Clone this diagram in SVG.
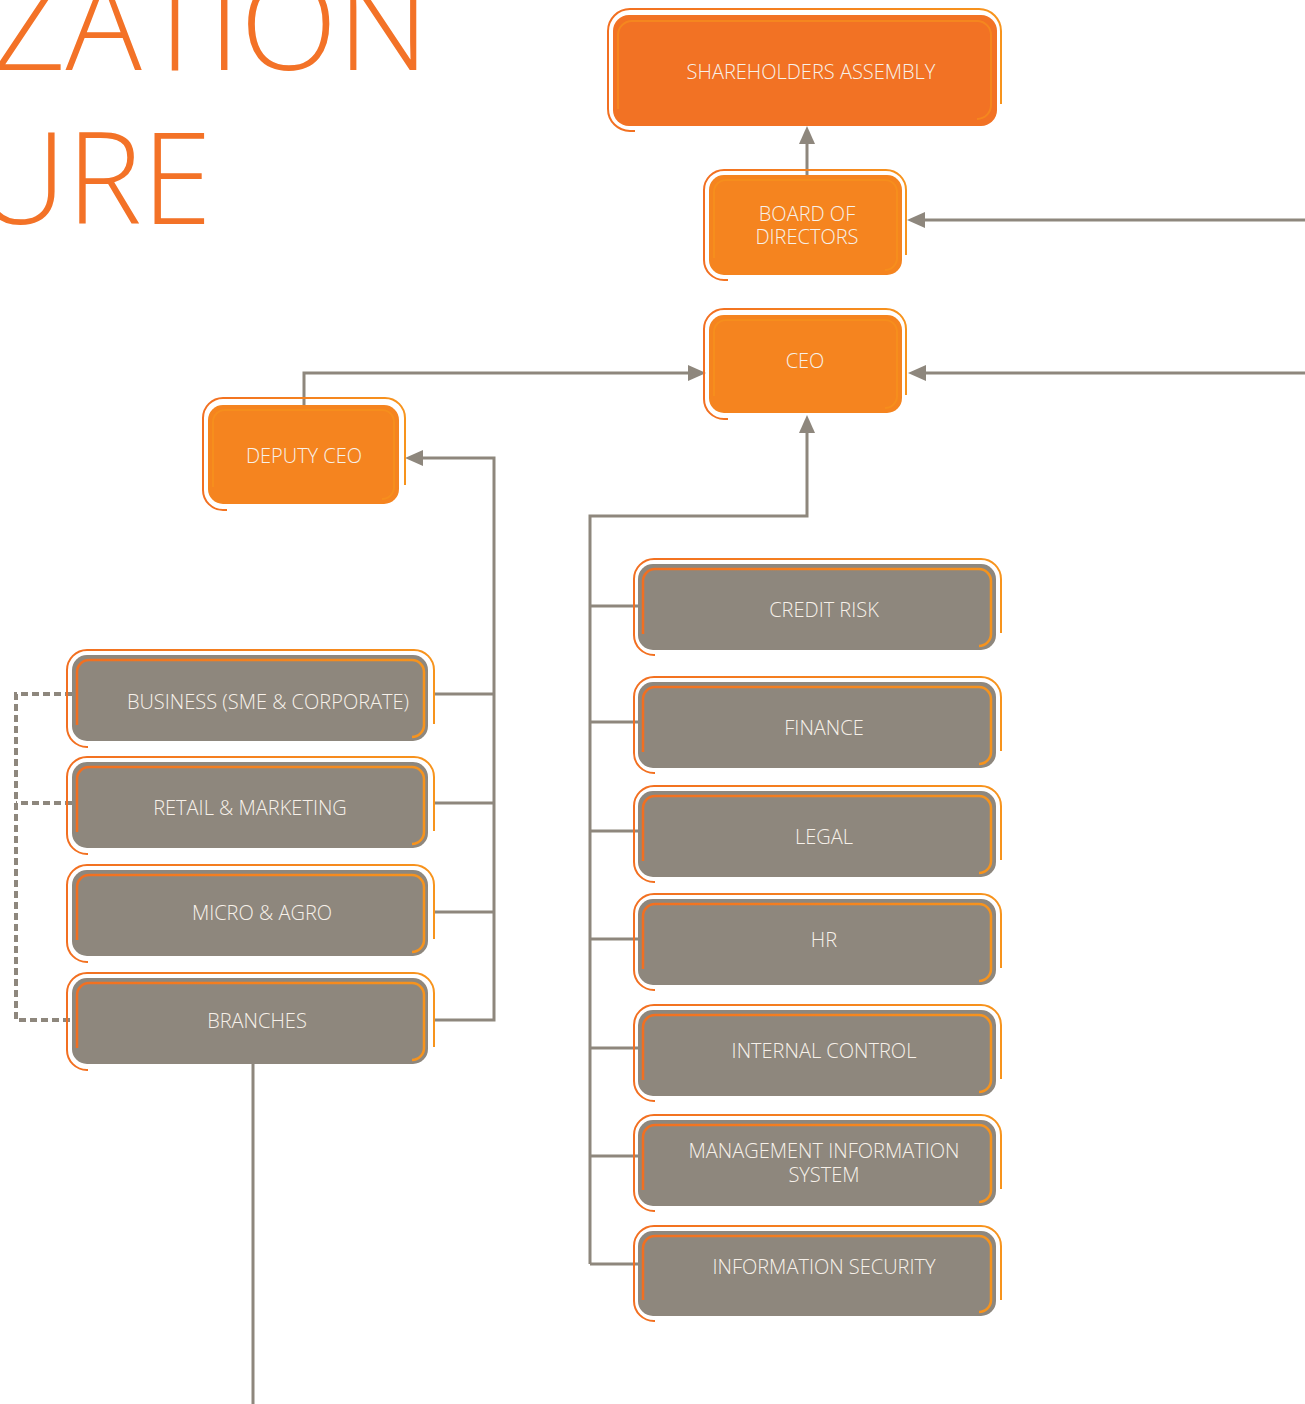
<svg xmlns="http://www.w3.org/2000/svg" width="1305" height="1404" viewBox="0 0 1305 1404">
<defs>
<linearGradient id="og" x1="0" y1="0" x2="1" y2="0">
<stop offset="0" stop-color="#f26f21"/>
<stop offset="1" stop-color="#f7941d"/>
</linearGradient>
<marker id="ah" markerUnits="userSpaceOnUse" markerWidth="18" markerHeight="16" refX="8" refY="8" orient="auto">
<path d="M0,0 L18,8 L0,16 z" fill="#8e877d"/>
</marker>
<style>
.outer{fill:none;stroke:url(#og);stroke-width:2}
.inner{fill:none;stroke:url(#og);stroke-width:2.5}
.inner-o{fill:none;stroke:#f7941d;stroke-width:2;opacity:0.6}
.gray{fill:#8e877d}
.or1{fill:#f27224}
.or2{fill:#f5841f}
.lbl{font-family:"Open Sans","Liberation Sans",sans-serif;font-weight:300;font-size:20px;fill:#f7f1ea;text-anchor:middle}
.title{font-family:"Open Sans","Liberation Sans",sans-serif;font-weight:300;font-size:127px;fill:#f37227;text-anchor:end}
.con{fill:none;stroke:#8e877d;stroke-width:3}
.dash{fill:none;stroke:#8e877d;stroke-width:4;stroke-dasharray:7 4}
</style>
</defs>
<rect width="1305" height="1404" fill="#ffffff"/>
<g id="title">
<text class="title" x="429" y="70">ZATION</text>
<text class="title" x="212" y="224">URE</text>
</g>
<g id="connectors">
<path class="con" d="M807,175 V136" marker-end="url(#ah)"/>
<path class="con" d="M1305,220 H917" marker-end="url(#ah)"/>
<path class="con" d="M1305,373 H918" marker-end="url(#ah)"/>
<path class="con" d="M304,405 V373 H696" marker-end="url(#ah)"/>
<path class="con" d="M590,1264 V516 H807 V425" marker-end="url(#ah)"/>
<path class="con" d="M590,1264 H638 M590,606 H638 M590,722 H638 M590,831 H638 M590,939 H638 M590,1048 H638 M590,1156 H638"/>
<path class="con" d="M433,1020 H494 V458 H415" marker-end="url(#ah)"/>
<path class="con" d="M433,694 H494 M433,803 H494 M433,912 H494"/>
<path class="dash" d="M72,694 H16 V1020 H72 M72,803 H16"/>
<path class="con" d="M253,1064 V1404"/>
</g>
<g id="shareholders">
<path class="outer" d="M635,131 H630 A22,22 0 0 1 608,109 V31 A22,22 0 0 1 630,9 H979 A22,22 0 0 1 1001,31 V104"/>
<rect class="or1" x="613" y="15" width="384" height="111" rx="16"/>
<path class="inner-o" d="M618,109 V35 A14,14 0 0 1 632,21 H977 A14,14 0 0 1 991,35 V105 A14,14 0 0 1 977,119"/>
<text class="lbl" x="811" y="79">SHAREHOLDERS ASSEMBLY</text>
</g>
<g id="board">
<path class="outer" d="M728,280 H724 A20,20 0 0 1 704,260 V190 A20,20 0 0 1 724,170 H886 A20,20 0 0 1 906,190 V255"/>
<rect class="or2" x="709" y="175" width="193" height="100" rx="15"/>
<path class="inner-o" d="M714,258 V192 A12,12 0 0 1 726,180 H885 A12,12 0 0 1 897,192 V258 A12,12 0 0 1 885,270"/>
<text class="lbl" x="807" y="221">BOARD OF</text>
<text class="lbl" x="807" y="244">DIRECTORS</text>
</g>
<g id="ceo">
<path class="outer" d="M728,419 H724 A20,20 0 0 1 704,399 V329 A20,20 0 0 1 724,309 H886 A20,20 0 0 1 906,329 V395"/>
<rect class="or2" x="709" y="315" width="193" height="98" rx="15"/>
<path class="inner-o" d="M714,396 V332 A12,12 0 0 1 726,320 H885 A12,12 0 0 1 897,332 V396 A12,12 0 0 1 885,408"/>
<text class="lbl" x="805" y="368">CEO</text>
</g>
<g id="deputy-ceo">
<path class="outer" d="M227,510 H223 A20,20 0 0 1 203,490 V418 A20,20 0 0 1 223,398 H385 A20,20 0 0 1 405,418 V485"/>
<rect class="or2" x="208" y="405" width="191" height="99" rx="15"/>
<path class="inner-o" d="M213,487 V422 A12,12 0 0 1 225,410 H382 A12,12 0 0 1 394,422 V487 A12,12 0 0 1 382,499"/>
<text class="lbl" x="304" y="463">DEPUTY CEO</text>
</g>
<g id="business">
<path class="outer" d="M88,747 H87 A20,20 0 0 1 67,727 V670 A20,20 0 0 1 87,650 H414 A20,20 0 0 1 434,670 V724"/>
<rect class="gray" x="72" y="655" width="356" height="86" rx="15"/>
<path class="inner" d="M77,725 V672 A12,12 0 0 1 89,660 H412 A12,12 0 0 1 424,672 V725 A12,12 0 0 1 412,737"/>
<text class="lbl" x="268" y="709">BUSINESS (SME &amp; CORPORATE)</text>
</g>
<g id="retail">
<path class="outer" d="M88,854 H87 A20,20 0 0 1 67,834 V777 A20,20 0 0 1 87,757 H414 A20,20 0 0 1 434,777 V831"/>
<rect class="gray" x="72" y="762" width="356" height="86" rx="15"/>
<path class="inner" d="M77,832 V779 A12,12 0 0 1 89,767 H412 A12,12 0 0 1 424,779 V832 A12,12 0 0 1 412,844"/>
<text class="lbl" x="250" y="815">RETAIL &amp; MARKETING</text>
</g>
<g id="micro">
<path class="outer" d="M88,962 H87 A20,20 0 0 1 67,942 V885 A20,20 0 0 1 87,865 H414 A20,20 0 0 1 434,885 V939"/>
<rect class="gray" x="72" y="870" width="356" height="86" rx="15"/>
<path class="inner" d="M77,940 V887 A12,12 0 0 1 89,875 H412 A12,12 0 0 1 424,887 V940 A12,12 0 0 1 412,952"/>
<text class="lbl" x="262" y="920">MICRO &amp; AGRO</text>
</g>
<g id="branches">
<path class="outer" d="M88,1070 H87 A20,20 0 0 1 67,1050 V993 A20,20 0 0 1 87,973 H414 A20,20 0 0 1 434,993 V1047"/>
<rect class="gray" x="72" y="978" width="356" height="86" rx="15"/>
<path class="inner" d="M77,1048 V995 A12,12 0 0 1 89,983 H412 A12,12 0 0 1 424,995 V1048 A12,12 0 0 1 412,1060"/>
<text class="lbl" x="257" y="1028">BRANCHES</text>
</g>
<g id="credit-risk">
<path class="outer" d="M655,655 H654 A20,20 0 0 1 634,635 V579 A20,20 0 0 1 654,559 H981 A20,20 0 0 1 1001,579 V633"/>
<rect class="gray" x="638" y="564" width="358" height="86" rx="15"/>
<path class="inner" d="M643,634 V581 A12,12 0 0 1 655,569 H979 A12,12 0 0 1 991,581 V634 A12,12 0 0 1 979,646"/>
<text class="lbl" x="824" y="617">CREDIT RISK</text>
</g>
<g id="finance">
<path class="outer" d="M655,773 H654 A20,20 0 0 1 634,753 V697 A20,20 0 0 1 654,677 H981 A20,20 0 0 1 1001,697 V751"/>
<rect class="gray" x="638" y="682" width="358" height="86" rx="15"/>
<path class="inner" d="M643,752 V699 A12,12 0 0 1 655,687 H979 A12,12 0 0 1 991,699 V752 A12,12 0 0 1 979,764"/>
<text class="lbl" x="824" y="735">FINANCE</text>
</g>
<g id="legal">
<path class="outer" d="M655,882 H654 A20,20 0 0 1 634,862 V806 A20,20 0 0 1 654,786 H981 A20,20 0 0 1 1001,806 V860"/>
<rect class="gray" x="638" y="791" width="358" height="86" rx="15"/>
<path class="inner" d="M643,861 V808 A12,12 0 0 1 655,796 H979 A12,12 0 0 1 991,808 V861 A12,12 0 0 1 979,873"/>
<text class="lbl" x="824" y="844">LEGAL</text>
</g>
<g id="hr">
<path class="outer" d="M655,990 H654 A20,20 0 0 1 634,970 V914 A20,20 0 0 1 654,894 H981 A20,20 0 0 1 1001,914 V968"/>
<rect class="gray" x="638" y="899" width="358" height="86" rx="15"/>
<path class="inner" d="M643,969 V916 A12,12 0 0 1 655,904 H979 A12,12 0 0 1 991,916 V969 A12,12 0 0 1 979,981"/>
<text class="lbl" x="824" y="947">HR</text>
</g>
<g id="internal-control">
<path class="outer" d="M655,1101 H654 A20,20 0 0 1 634,1081 V1025 A20,20 0 0 1 654,1005 H981 A20,20 0 0 1 1001,1025 V1079"/>
<rect class="gray" x="638" y="1010" width="358" height="86" rx="15"/>
<path class="inner" d="M643,1080 V1027 A12,12 0 0 1 655,1015 H979 A12,12 0 0 1 991,1027 V1080 A12,12 0 0 1 979,1092"/>
<text class="lbl" x="824" y="1058">INTERNAL CONTROL</text>
</g>
<g id="mis">
<path class="outer" d="M655,1211 H654 A20,20 0 0 1 634,1191 V1135 A20,20 0 0 1 654,1115 H981 A20,20 0 0 1 1001,1135 V1189"/>
<rect class="gray" x="638" y="1120" width="358" height="86" rx="15"/>
<path class="inner" d="M643,1190 V1137 A12,12 0 0 1 655,1125 H979 A12,12 0 0 1 991,1137 V1190 A12,12 0 0 1 979,1202"/>
<text class="lbl" x="824" y="1158">MANAGEMENT INFORMATION</text>
<text class="lbl" x="824" y="1182">SYSTEM</text>
</g>
<g id="information-security">
<path class="outer" d="M655,1321 H654 A20,20 0 0 1 634,1301 V1246 A20,20 0 0 1 654,1226 H981 A20,20 0 0 1 1001,1246 V1300"/>
<rect class="gray" x="638" y="1231" width="358" height="85" rx="15"/>
<path class="inner" d="M643,1300 V1248 A12,12 0 0 1 655,1236 H979 A12,12 0 0 1 991,1248 V1300 A12,12 0 0 1 979,1312"/>
<text class="lbl" x="824" y="1274">INFORMATION SECURITY</text>
</g>
</svg>
